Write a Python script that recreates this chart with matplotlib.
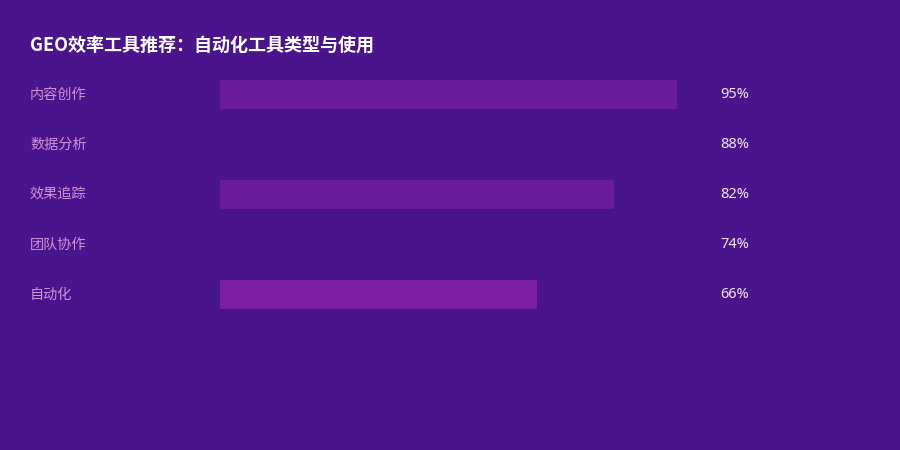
import matplotlib
matplotlib.use("Agg")
import matplotlib.pyplot as plt
import matplotlib.transforms as mtransforms

plt.rcParams['font.family'] = ['Noto Sans CJK SC', 'DejaVu Sans']

# data
categories = ["内容创作", "数据分析", "效果追踪", "团队协作", "自动化"]
values = [95, 88, 82, 74, 66]
bar_colors = ["#6A1B9A", "#4A148C", "#6A1B9A", "#4A148C", "#7B1FA2"]
title = "GEO效率工具推荐：自动化工具类型与使用"

BG = "#4A148C"
W, H = 900, 450

fig = plt.figure(figsize=(W / 100, H / 100), dpi=100, facecolor=BG)

# plot area: x 220..701 px, rows centred at 94..294 px
ax = fig.add_axes([220 / W, (H - 319) / H, 481 / W, 250 / H])
ax.set_facecolor(BG)
ax.axis("off")

ypos = list(range(len(categories)))
ax.barh(ypos, values, height=0.58, color=bar_colors, left=0)
ax.set_xlim(0, 100)
ax.set_ylim(len(categories) - 0.5, -0.5)

# category labels on the left, values on the right
trans = mtransforms.blended_transform_factory(fig.transFigure, ax.transData)
for i, (cat, v) in enumerate(zip(categories, values)):
    ax.text(30 / W, i + 0.02, cat, transform=trans, ha="left", va="center",
            fontsize=10.2, color="#CE93D8")
    ax.text(720 / W, i + 0.02, f"{v}%", transform=trans, ha="left", va="center",
            fontsize=10.5, color="#F3E5F5", family=["Noto Sans", "DejaVu Sans"])

fig.text(30 / W, 1 - 45 / H, title, ha="left", va="center",
         fontsize=13.0, fontweight="bold", color="white")

fig.savefig("out.png", dpi=100, facecolor=BG)
